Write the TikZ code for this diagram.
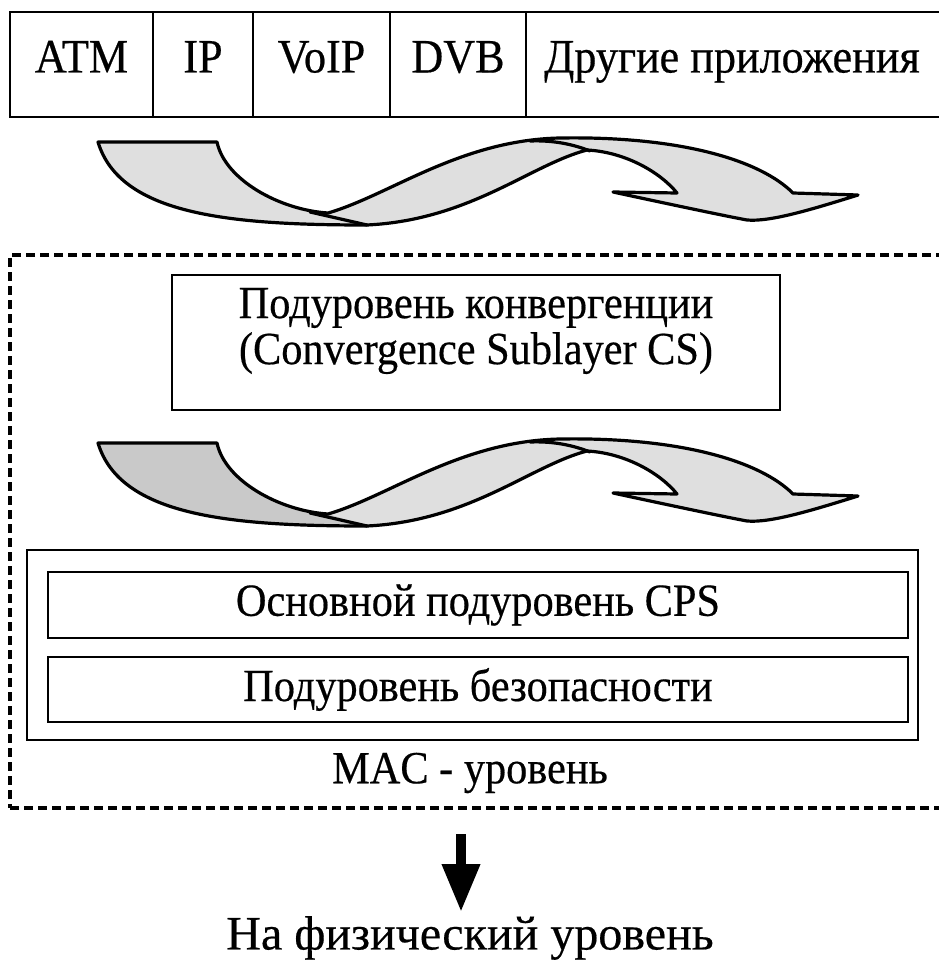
\documentclass[tikz,border=0pt]{standalone}
\usepackage{fontspec}
\setmainfont{Liberation Serif}
\newfontfamily\condfont{Liberation Serif}[FakeStretch=0.92,FakeBold=0.4]
\newfontfamily\plainfont{Liberation Serif}[FakeBold=0.4]
\usetikzlibrary{arrows.meta,calc}
\tikzset{
  cell/.style={draw, line width=2.5pt, minimum height=105pt, inner sep=0pt,
    text height=33pt, text depth=17pt,
    font=\condfont\fontsize{48}{52}\selectfont},
  solidbox/.style={draw, line width=2.8pt, inner sep=0pt},
  dashbox/.style={draw, line width=3.2pt, dash pattern=on 9pt off 5pt, inner sep=0pt},
  lbl/.style={inner sep=0pt, font=\condfont\fontsize{46}{46}\selectfont, align=center},
  ribbonline/.style={line width=3.2pt, line join=round, line cap=round},
}
\begin{document}
\begin{tikzpicture}[x=1pt,y=-1pt]
\useasboundingbox (0,0) rectangle (938,963);
% top row
\node[cell, minimum width=143pt] (atm)   at (81.5,64.5) {ATM};
\node[cell, minimum width=100pt] (ip)    at (203,64.5) {IP};
\node[cell, minimum width=137pt] (voip)  at (321.5,64.5) {VoIP};
\node[cell, minimum width=136pt] (dvb)   at (458,64.5) {DVB};
\node[cell, minimum width=424pt] (other) at (738,64.5) {\hspace*{-12pt}Другие приложения};
% ribbons
\foreach \dy/\lc in {0/gray!25, 301/gray!42}{
\begin{scope}[shift={(0,\dy)}]
\path[fill=gray!25] (98,142) -- (217,142) .. controls (225,180) and (280,210) .. (328,213)
  .. controls (390,195) and (460,140) .. (560,138)
  .. controls (680,136) and (760,160) .. (793,193) -- (858,195)
  .. controls (810,210) and (770,222) .. (747,220)
  .. controls (720,215) and (650,200) .. (613,192) -- (677,193)
  .. controls (660,172) and (625,152) .. (587,150)
  .. controls (530,165) and (470,220) .. (367,225)
  .. controls (230,225) and (120,215) .. (98,142) -- cycle;
\path[fill=\lc] (98,142) -- (217,142) .. controls (225,180) and (280,210) .. (328,213)
  -- (367,225) .. controls (230,225) and (120,215) .. (98,142) -- cycle;
\draw[ribbonline] (98,142) -- (217,142) .. controls (225,180) and (280,210) .. (328,213)
  .. controls (390,195) and (460,140) .. (560,138)
  .. controls (680,136) and (760,160) .. (793,193) -- (858,195)
  .. controls (810,210) and (770,222) .. (747,220)
  .. controls (720,215) and (650,200) .. (613,192) -- (677,193)
  .. controls (660,172) and (625,152) .. (587,150)
  .. controls (530,165) and (470,220) .. (367,225)
  .. controls (230,225) and (120,215) .. (98,142) -- cycle;
\draw[ribbonline] (310,212) -- (367,225);
\draw[ribbonline] (530,141) .. controls (555,140) and (575,145) .. (590,151);
\end{scope}}
% MAC dashed area
\node[dashbox, minimum width=940pt, minimum height=553pt] (mac) at (480,531.5) {};
\node[solidbox, minimum width=608pt, minimum height=135pt] (cs) at (476,342.5) {};
\node[lbl] (cstext) at (476,331) {Подуровень конвергенции\\(Convergence Sublayer CS)};
\node[solidbox, minimum width=891pt, minimum height=190pt] (macin) at (472.5,645) {};
\node[solidbox, lbl, minimum width=860pt, minimum height=66pt] (cps) at (478,605) {Основной подуровень CPS};
\node[solidbox, lbl, minimum width=860pt, minimum height=65pt] (sec) at (478,689.5) {Подуровень безопасности};
\node[lbl] (maclbl) at (470,773) {MAC - уровень};
% down arrow
\coordinate (arrtop) at (461,834);
\node[inner sep=0pt, font=\plainfont\fontsize{48}{52}\selectfont] (phys) at (470,938) {На физический уровень};
\draw[line width=10pt, -{Triangle[width=36pt,length=48pt]}] (arrtop) -- (arrtop |- 0,912);
\end{tikzpicture}
\end{document}
